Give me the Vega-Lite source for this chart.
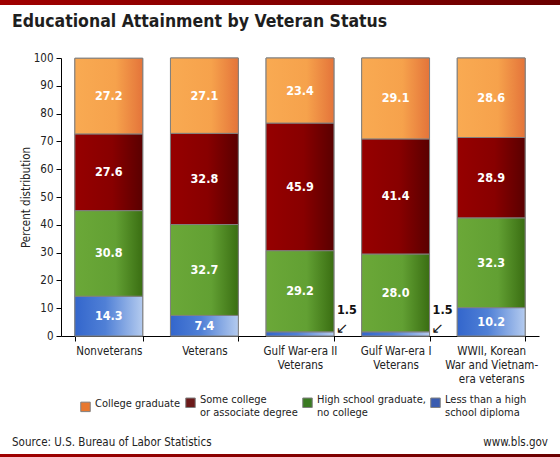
{
  "$schema": "https://vega.github.io/schema/vega-lite/v6.json",
  "background": "white",
  "padding": 0,
  "spacing": 21,
  "resolve": {"scale": {"color": "independent"}, "legend": {"color": "independent"}},
  "config": {
    "view": {"stroke": null},
    "font": "DejaVu Sans Condensed, Liberation Sans, sans-serif"
  },
  "datasets": {
    "edu": [
      {"group": "Nonveterans", "level": "Less than a high|school diploma", "rank": 1, "value": 14.3},
      {"group": "Nonveterans", "level": "High school graduate,|no college", "rank": 2, "value": 30.8},
      {"group": "Nonveterans", "level": "Some college|or associate degree", "rank": 3, "value": 27.6},
      {"group": "Nonveterans", "level": "College graduate", "rank": 4, "value": 27.2},
      {"group": "Veterans", "level": "Less than a high|school diploma", "rank": 1, "value": 7.4},
      {"group": "Veterans", "level": "High school graduate,|no college", "rank": 2, "value": 32.7},
      {"group": "Veterans", "level": "Some college|or associate degree", "rank": 3, "value": 32.8},
      {"group": "Veterans", "level": "College graduate", "rank": 4, "value": 27.1},
      {"group": "Gulf War-era II|Veterans", "level": "Less than a high|school diploma", "rank": 1, "value": 1.5},
      {"group": "Gulf War-era II|Veterans", "level": "High school graduate,|no college", "rank": 2, "value": 29.2},
      {"group": "Gulf War-era II|Veterans", "level": "Some college|or associate degree", "rank": 3, "value": 45.9},
      {"group": "Gulf War-era II|Veterans", "level": "College graduate", "rank": 4, "value": 23.4},
      {"group": "Gulf War-era I|Veterans", "level": "Less than a high|school diploma", "rank": 1, "value": 1.5},
      {"group": "Gulf War-era I|Veterans", "level": "High school graduate,|no college", "rank": 2, "value": 28.0},
      {"group": "Gulf War-era I|Veterans", "level": "Some college|or associate degree", "rank": 3, "value": 41.4},
      {"group": "Gulf War-era I|Veterans", "level": "College graduate", "rank": 4, "value": 29.1},
      {"group": "WWII, Korean|War and Vietnam-|era veterans", "level": "Less than a high|school diploma", "rank": 1, "value": 10.2},
      {"group": "WWII, Korean|War and Vietnam-|era veterans", "level": "High school graduate,|no college", "rank": 2, "value": 32.3},
      {"group": "WWII, Korean|War and Vietnam-|era veterans", "level": "Some college|or associate degree", "rank": 3, "value": 28.9},
      {"group": "WWII, Korean|War and Vietnam-|era veterans", "level": "College graduate", "rank": 4, "value": 28.6}
    ],
    "strip": [{"a": 0, "b": 1}],
    "foot": [
      {"side": "left", "text": "Source: U.S. Bureau of Labor Statistics"},
      {"side": "right", "text": "www.bls.gov"}
    ]
  },
  "vconcat": [
    {
      "data": {"name": "strip"},
      "width": 560,
      "height": 5,
      "title": {"text": "Educational Attainment by Veteran Status", "orient": "bottom", "anchor": "start", "frame": "group", "dx": 12, "offset": 8, "fontSize": 17.5, "fontWeight": "bold", "color": "#1e1e1e"},
      "mark": {"type": "rect", "color": {"gradient": "linear", "x1": 0, "x2": 1, "y1": 0, "y2": 0, "stops": [{"offset": 0, "color": "#a00000"}, {"offset": 1, "color": "#6a0000"}]}},
      "encoding": {
        "x": {"field": "a", "type": "quantitative", "axis": null, "scale": {"domain": [0, 1], "nice": false, "zero": false}},
        "x2": {"field": "b"}
      }
    },
    {
      "spacing": 5,
      "resolve": {"scale": {"color": "independent"}, "legend": {"color": "independent"}},
      "vconcat": [
        {
          "spacing": 19,
          "resolve": {"scale": {"color": "independent"}, "legend": {"color": "independent"}},
          "hconcat": [
            {
              "data": {"values": []},
              "width": 1,
              "height": 1,
              "mark": {"type": "point", "size": 0}
            },
            {
              "data": {"name": "edu"},
              "width": 478,
              "height": 278,
              "transform": [
                {"stack": "value", "groupby": ["group"], "sort": [{"field": "rank", "order": "ascending"}], "as": ["y0", "y1"]}
              ],
              "encoding": {
                "x": {
                  "field": "group", "type": "nominal", "sort": null,
                  "scale": {"paddingInner": 0.29, "paddingOuter": 0.145},
                  "axis": {"title": null, "labelAngle": 0, "tickBand": "extent", "labelExpr": "split(datum.label, '|')", "labelFontSize": 11.5, "labelLineHeight": 14, "labelColor": "#222", "domainColor": "#000", "tickColor": "#000", "tickSize": 5, "labelPadding": 4}
                },
                "y": {"field": "y0", "type": "quantitative", "scale": {"domain": [0, 100], "nice": false},
                  "axis": {"title": "Percent distribution", "values": [0, 10, 20, 30, 40, 50, 60, 70, 80, 90, 100], "labelOverlap": false, "grid": false, "domainColor": "#000", "tickColor": "#000", "tickSize": 5, "labelPadding": 3, "titlePadding": 2, "labelFontSize": 11.5, "titleFontSize": 11.5, "titleFontWeight": "normal", "labelColor": "#222", "titleColor": "#222"}}
              },
              "layer": [
                {
                  "mark": {"type": "bar", "stroke": "#808080", "strokeWidth": 1},
                  "encoding": {
                    "y2": {"field": "y1"},
                    "color": {
                      "field": "level", "type": "nominal",
                      "scale": {"domain": ["College graduate", "Some college|or associate degree", "High school graduate,|no college", "Less than a high|school diploma"], "range": ["#e8782f", "#6b1a1a", "#3a7a22", "#3a5cb0"]},
                      "legend": {"title": null, "orient": "none", "legendX": 19, "legendY": 339, "direction": "horizontal", "columns": 4, "labelExpr": "split(datum.label, '|')", "labelBaseline": "alphabetic", "symbolType": "square", "symbolSize": 90, "symbolStrokeColor": "#808080", "symbolStrokeWidth": 1, "labelFontSize": 11, "labelLineHeight": 14, "labelColor": "#222", "columnPadding": 2}
                    }
                  }
                },
                {
                  "transform": [{"filter": "datum.rank == 1"}],
                  "mark": {"type": "bar", "stroke": "#808080", "strokeWidth": 1, "color": {"gradient": "linear", "x1": 0, "x2": 1, "y1": 0, "y2": 0, "stops": [{"offset": 0, "color": "#3366cc"}, {"offset": 0.45, "color": "#5080d6"}, {"offset": 1, "color": "#b4cbef"}]}},
                  "encoding": {"y2": {"field": "y1"}}
                },
                {
                  "transform": [{"filter": "datum.rank == 2"}],
                  "mark": {"type": "bar", "stroke": "#808080", "strokeWidth": 1, "color": {"gradient": "linear", "x1": 0, "x2": 1, "y1": 0, "y2": 0, "stops": [{"offset": 0, "color": "#6ba838"}, {"offset": 0.6, "color": "#62a033"}, {"offset": 1, "color": "#3a6e12"}]}},
                  "encoding": {"y2": {"field": "y1"}}
                },
                {
                  "transform": [{"filter": "datum.rank == 3"}],
                  "mark": {"type": "bar", "stroke": "#808080", "strokeWidth": 1, "color": {"gradient": "linear", "x1": 0, "x2": 1, "y1": 0, "y2": 0, "stops": [{"offset": 0, "color": "#960000"}, {"offset": 0.55, "color": "#880000"}, {"offset": 1, "color": "#5a0000"}]}},
                  "encoding": {"y2": {"field": "y1"}}
                },
                {
                  "transform": [{"filter": "datum.rank == 4"}],
                  "mark": {"type": "bar", "stroke": "#808080", "strokeWidth": 1, "color": {"gradient": "linear", "x1": 0, "x2": 1, "y1": 0, "y2": 0, "stops": [{"offset": 0, "color": "#f9aa52"}, {"offset": 0.6, "color": "#f6a24c"}, {"offset": 1, "color": "#e4743a"}]}},
                  "encoding": {"y2": {"field": "y1"}}
                },
                {
                  "transform": [
                    {"filter": "datum.value > 3"},
                    {"fold": ["y0", "y1"], "as": ["edge", "pos"]},
                    {"aggregate": [{"op": "mean", "field": "pos", "as": "y0"}], "groupby": ["group", "level", "value"]}
                  ],
                  "mark": {"type": "text", "color": "white", "fontWeight": "bold", "fontSize": 12.5},
                  "encoding": {
                    "text": {"field": "value", "type": "quantitative", "format": ".1f"}
                  }
                },
                {
                  "transform": [{"filter": "datum.value < 3"}],
                  "mark": {"type": "text", "color": "#111", "fontWeight": "bold", "fontSize": 12.5, "dx": 13, "dy": -26},
                  "encoding": {
                    "x": {"field": "group", "type": "nominal", "sort": null, "bandPosition": 1},
                    "text": {"field": "value", "type": "quantitative", "format": ".1f"}
                  }
                },
                {
                  "transform": [{"filter": "datum.value < 3"}],
                  "mark": {"type": "text", "color": "#111", "fontSize": 15, "dx": 8, "dy": -8, "text": "↙", "font": "DejaVu Sans"},
                  "encoding": {
                    "x": {"field": "group", "type": "nominal", "sort": null, "bandPosition": 1}
                  }
                }
              ]
            }
          ]
        },
        {
          "data": {"name": "foot"},
          "width": 560,
          "height": 26,
          "encoding": {
            "x": {"field": "side", "type": "nominal", "scale": {"type": "point", "padding": 0}, "axis": null},
            "text": {"field": "text"}
          },
          "layer": [
            {"transform": [{"filter": "datum.side == 'left'"}], "mark": {"type": "text", "align": "left", "fontSize": 11.5, "color": "#222", "dx": 12, "dy": 7}},
            {"transform": [{"filter": "datum.side == 'right'"}], "mark": {"type": "text", "align": "right", "fontSize": 11.5, "color": "#222", "dx": -12, "dy": 7}}
          ]
        },
        {
          "data": {"name": "strip"},
          "width": 560,
          "height": 5,
          "mark": {"type": "rect", "color": {"gradient": "linear", "x1": 0, "x2": 1, "y1": 0, "y2": 0, "stops": [{"offset": 0, "color": "#a00000"}, {"offset": 1, "color": "#6a0000"}]}},
          "encoding": {
            "x": {"field": "a", "type": "quantitative", "axis": null, "scale": {"domain": [0, 1], "nice": false, "zero": false}},
            "x2": {"field": "b"}
          }
        }
      ]
    }
  ]
}
